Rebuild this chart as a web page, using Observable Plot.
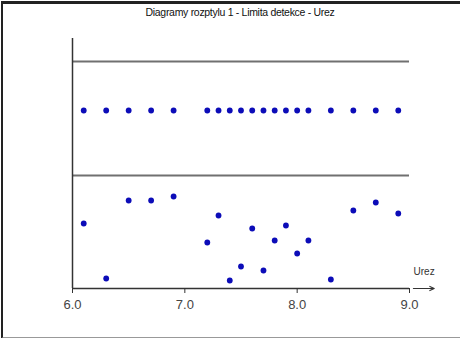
<!DOCTYPE html>
<html>
<head>
<meta charset="utf-8">
<script src="https://cdn.jsdelivr.net/npm/d3@7"></script>
<script src="https://cdn.jsdelivr.net/npm/@observablehq/plot@0.6"></script>
<style>
  html, body { margin: 0; padding: 0; background: #fff; }
  #wrap { position: relative; width: 460px; height: 338px; overflow: hidden; font-family: "Liberation Sans", Arial, sans-serif; }
  #chart { position: absolute; left: 0; top: 0; }
  #title { position: absolute; left: 0; top: 6px; width: 480px; text-align: center; font-size: 10.5px; color: #111; letter-spacing: -0.3px; }
  #border { position: absolute; left: 1px; top: 1px; width: 470px; height: 333px; border-left: 2px solid #222; border-top: 3px solid #222; border-bottom: 2px solid #999; pointer-events: none; }
</style>
</head>
<body>
<div id="wrap">
  <div id="chart"></div>
  <div id="title">Diagramy rozptylu 1 - Limita detekce - Urez</div>
  <div id="border"></div>
</div>
<script>
const titleText = "Diagramy rozptylu 1 - Limita detekce - Urez";
const axisLabel = "Urez";
const xTicks = [6, 7, 8, 9];
const xValues = [6.1, 6.3, 6.5, 6.7, 6.9, 7.2, 7.3, 7.4, 7.5, 7.6, 7.7, 7.8, 7.9, 8.0, 8.1, 8.3, 8.5, 8.7, 8.9];
const upperLevel = 71.2;
const lowerValues = [26, 4, 35.2, 35.2, 36.8, 18.4, 29.2, 3.2, 8.8, 24, 7.2, 19.2, 25.2, 14, 19.2, 3.6, 31.2, 34.4, 30];
const bandLines = [45.2, 90.8];

const upperData = xValues.map(x => ({x, y: upperLevel}));
const lowerData = xValues.map((x, i) => ({x, y: lowerValues[i]}));

const chart = Plot.plot({
  width: 460,
  height: 338,
  marginLeft: 72,
  marginRight: 51,
  marginTop: 38,
  marginBottom: 50,
  style: {background: "transparent", fontFamily: "Liberation Sans, Arial, sans-serif"},
  x: {domain: [6, 9], label: null},
  y: {domain: [0, 100], axis: null},
  marks: [
    Plot.axisX({ticks: xTicks, tickFormat: d3.format(".1f"), tickSize: 5, tickPadding: 6, fontSize: 13, color: "#444", stroke: "#333", label: null}),
    Plot.ruleY(bandLines, {x1: 6, x2: 9, stroke: "#707070", strokeWidth: 2}),
    Plot.ruleY([0], {x1: 6, x2: 9, stroke: "#333", strokeWidth: 1.5}),
    Plot.ruleX([6], {y1: 0, y2: 100, stroke: "#333", strokeWidth: 1.5}),
    Plot.arrow([{x1: 9.035, x2: 9.22, y: 0}], {x1: "x1", x2: "x2", y1: "y", y2: "y", stroke: "#333", strokeWidth: 1.2, headLength: 6, headAngle: 50}),
    Plot.text([axisLabel], {x: 9.13, y: 6.6, text: d => d, fontSize: 10, fill: "#333"}),
    Plot.dot(upperData, {x: "x", y: "y", r: 2.9, fill: "#0c0cb8", stroke: null}),
    Plot.dot(lowerData, {x: "x", y: "y", r: 2.9, fill: "#0c0cb8", stroke: null})
  ]
});
document.getElementById("chart").appendChild(chart);
document.getElementById("title").textContent = titleText;
</script>
</body>
</html>
